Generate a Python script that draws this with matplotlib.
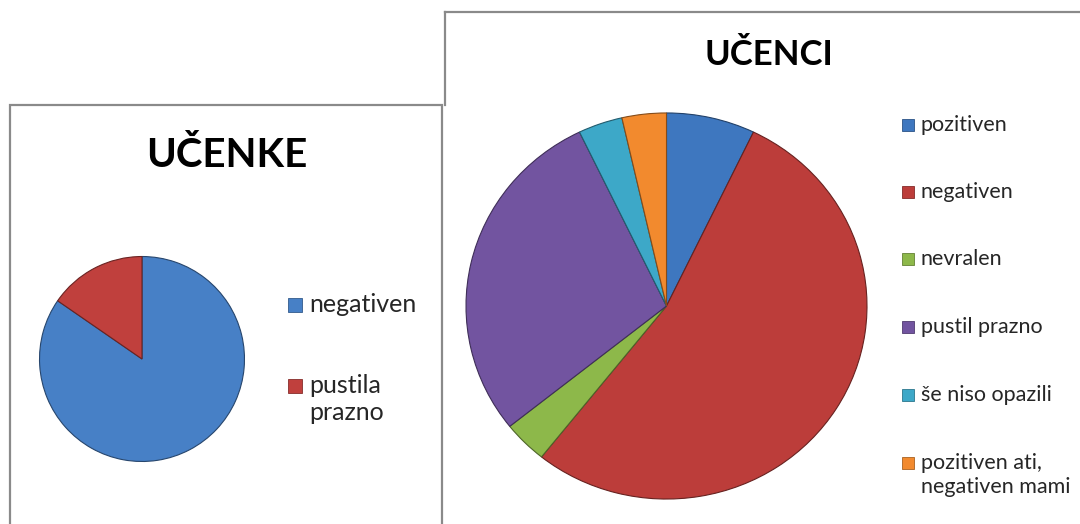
import matplotlib.pyplot as plt
from matplotlib.patches import Rectangle
from matplotlib.lines import Line2D
from matplotlib.colors import to_rgb

# data
girls_labels = ["negativen", "pustila\nprazno"]
girls_values = [11, 2]
girls_colors = ["#4780C6", "#C0403D"]

boys_labels = ["pozitiven", "negativen", "nevralen", "pustil prazno",
               "še niso opazili", "pozitiven ati,\nnegativen mami"]
boys_values = [2, 15, 1, 8, 1, 1]
boys_colors = ["#3E77BF", "#BC3D3A", "#8DB84A", "#7254A0", "#3DA8C8", "#F28A2E"]

W, H = 1080, 524
plt.rcParams["font.family"] = ["Lato", "DejaVu Sans"]
fig = plt.figure(figsize=(W / 100, H / 100), dpi=100)
fig.patch.set_facecolor("white")


def fx(px):
    return px / W


def fy(py):
    return 1 - py / H


def darker(c, k=0.55):
    r, g, b = to_rgb(c)
    return (r * k, g * k, b * k)


border = "#8a8a8a"
# right panel frame (its lower left part is hidden behind the left panel)
fig.add_artist(Line2D([fx(445), fx(1085)], [fy(12), fy(12)], color=border, lw=1.6, zorder=-2))
fig.add_artist(Line2D([fx(445), fx(445)], [fy(12), fy(105)], color=border, lw=1.6, zorder=-2))
# left panel frame
fig.add_artist(Rectangle((fx(10), fy(540)), fx(432), fy(105) - fy(540),
                         facecolor="white", edgecolor=border, lw=1.6, zorder=-1))


def draw_pie(values, colors, box):
    l, t, r, b = box
    ax = fig.add_axes([fx(l), fy(b), fx(r - l), fy(t) - fy(b)])
    wedges, _ = ax.pie(values, colors=colors, startangle=90, counterclock=False,
                       wedgeprops=dict(linewidth=0.8))
    for w, c in zip(wedges, colors):
        w.set_edgecolor(darker(c))
    ax.set_aspect("auto")
    ax.set_xlim(-1.005, 1.005)
    ax.set_ylim(-1.005, 1.005)
    ax.axis("off")
    return ax


def draw_legend(labels, colors, x, ys, size, marker, spacing):
    fpx = size * 100 / 72
    for lab, col, y in zip(labels, colors, ys):
        fig.add_artist(Rectangle((fx(x - marker / 2), fy(y + marker / 2)),
                                 fx(marker), fy(y - marker / 2) - fy(y + marker / 2),
                                 facecolor=col, edgecolor=darker(col, 0.7), lw=0.6))
        fig.text(fx(x + marker / 2 + 7), fy(y - 0.47 * fpx), lab, fontsize=size,
                 color="#262626", va="top", ha="left", linespacing=spacing)


# left chart
draw_pie(girls_values, girls_colors, (39, 256, 245, 462))
fig.text(fx(227), fy(155), "UČENKE", fontsize=29, fontweight="bold",
         ha="center", va="center", color="black")
draw_legend(girls_labels, girls_colors, 295, [305, 386], 18, 14, 1.2)

# right chart
draw_pie(boys_values, boys_colors, (465, 112, 868, 500))
fig.text(fx(769), fy(55), "UČENCI", fontsize=25, fontweight="bold",
         ha="center", va="center", color="black")
draw_legend(boys_labels, boys_colors, 908, [125, 192, 259, 327, 395, 463], 15.5, 12, 1.28)

fig.savefig("out.png", dpi=100, facecolor="white")
